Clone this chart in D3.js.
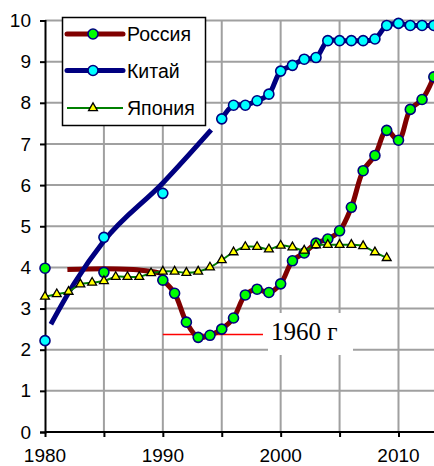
<!DOCTYPE html>
<html>
<head>
<meta charset="utf-8">
<script src="https://cdn.jsdelivr.net/npm/d3@7"></script>
<style>
  body { margin: 0; background: #fff; }
  svg { display: block; font-family: Arial, "Liberation Sans", sans-serif; }
</style>
</head>
<body>
<svg id="svg" width="434" height="466"></svg>
<script>
// DATA //

// Russia: markers at 1980, 1985 and yearly from 1990
const russiaYears = [1980, 1985, 1990, 1991, 1992, 1993, 1994, 1995, 1996, 1997, 1998, 1999,
  2000, 2001, 2002, 2003, 2004, 2005, 2006, 2007, 2008, 2009, 2010, 2011, 2012, 2013];
const russiaValues = [3.98, 3.88, 3.69, 3.37, 2.67, 2.30, 2.35, 2.50, 2.77, 3.33, 3.47, 3.39,
  3.60, 4.16, 4.35, 4.59, 4.69, 4.89, 5.46, 6.35, 6.72, 7.33, 7.09, 7.84, 8.08, 8.63];
const russiaLineFrom = 1990;

// China: markers at 1980, 1985, 1990 and yearly from 1995
const chinaYears = [1980, 1985, 1990, 1995, 1996, 1997, 1998, 1999, 2000, 2001, 2002, 2003,
  2004, 2005, 2006, 2007, 2008, 2009, 2010, 2011, 2012, 2013];
const chinaValues = [2.22, 4.73, 5.80, 7.61, 7.94, 7.94, 8.05, 8.21, 8.77, 8.91, 9.06, 9.10,
  9.51, 9.51, 9.51, 9.51, 9.55, 9.88, 9.93, 9.88, 9.88, 9.88];
const chinaLineFrom = 1995;

// Japan: yearly 1980-2009
const japanYears = d3.range(1980, 2010);
const japanValues = [3.29, 3.35, 3.41, 3.59, 3.63, 3.67, 3.77, 3.77, 3.77, 3.86,
  3.90, 3.90, 3.87, 3.90, 4.00, 4.18, 4.37, 4.50, 4.50, 4.44,
  4.53, 4.49, 4.41, 4.54, 4.55, 4.55, 4.55, 4.52, 4.37, 4.23];

// Trend curves (no markers)
const russiaTrendYears = [1981.9, 1985, 1987.5, 1989, 1990];
const russiaTrendValues = [3.95, 3.97, 3.95, 3.90, 3.85];
const chinaTrendYears = [1980.5, 1982.5, 1985, 1990, 1994.1];
const chinaTrendValues = [2.62, 3.62, 4.64, 6.05, 7.34];

// Reference level
const refYears = [1990, 1998.5];
const refValue = 2.37;
const refLabel = "1960 г";

// Axis ticks
const yTicks = d3.range(0, 11);
const xGridTicks = d3.range(1985, 2011, 5);
const xTickMarks = d3.range(1980, 2015, 5);
const xLabelTicks = [1980, 1990, 2000, 2010];

const legendItems = [
  {name: "Россия", line: "#800000", width: 5, marker: "circle", fill: "#00ff00"},
  {name: "Китай", line: "#000080", width: 5, marker: "circle", fill: "#00ffff"},
  {name: "Япония", line: "#008000", width: 2, marker: "triangle", fill: "#ffff00"}
];

// MAIN //

const svg = d3.select("#svg");

const x = d3.scaleLinear().domain([1980, 2014]).range([45, 45 + 34 * 11.783]);
const y = d3.scaleLinear().domain([0, 10]).range([432, 20.5]);

const gridColor = "#a0a0a0";

// Gridlines
svg.append("g")
  .selectAll("line")
  .data(yTicks.filter(d => d > 0))
  .enter()
  .append("line")
  .attr("x1", x(1980)).attr("x2", 434)
  .attr("y1", d => y(d)).attr("y2", d => y(d))
  .attr("stroke", gridColor).attr("stroke-width", 2);

svg.append("g")
  .selectAll("line")
  .data(xGridTicks)
  .enter()
  .append("line")
  .attr("x1", d => x(d)).attr("x2", d => x(d))
  .attr("y1", y(10)).attr("y2", y(0))
  .attr("stroke", gridColor).attr("stroke-width", 2);

// Label box (covers the grid)
const labelG = svg.append("g");
labelG.append("rect")
  .attr("x", 268).attr("y", 313)
  .attr("width", 85).attr("height", 42)
  .attr("fill", "#fff");
labelG.append("text")
  .attr("x", 271)
  .attr("y", 339.5)
  .style("font-family", "'Liberation Serif', 'Times New Roman', serif")
  .style("font-size", "25px")
  .text(refLabel);

// Reference line
svg.append("line")
  .attr("x1", x(refYears[0])).attr("x2", x(refYears[1]))
  .attr("y1", y(refValue)).attr("y2", y(refValue))
  .attr("stroke", "#ff0000").attr("stroke-width", 1.5);

// Axes
const yAxis = d3.axisLeft(y).tickValues(yTicks).tickSize(5).tickPadding(9);
svg.append("g")
  .attr("transform", `translate(${x(1980)},0)`)
  .call(yAxis)
  .call(g => {
    g.select(".domain").attr("stroke", "#000").attr("stroke-width", 2);
    g.selectAll(".tick line").attr("stroke", "#000").attr("stroke-width", 2);
    g.selectAll(".tick text")
      .attr("fill", "#000")
      .style("font-size", "19px")
      .style("font-family", "Arial, 'Liberation Sans', sans-serif");
  });

const xAxis = d3.axisBottom(x).tickValues(xTickMarks).tickSize(5).tickFormat("");
svg.append("g")
  .attr("transform", `translate(0,${y(0)})`)
  .call(xAxis)
  .call(g => {
    g.select(".domain").attr("d", `M${x(1980)},0H434`).attr("stroke", "#000").attr("stroke-width", 2);
    g.selectAll(".tick line").attr("stroke", "#000").attr("stroke-width", 2);
  });

svg.append("g")
  .selectAll("text")
  .data(xLabelTicks)
  .enter()
  .append("text")
  .attr("x", d => x(d))
  .attr("y", 462)
  .attr("text-anchor", "middle")
  .style("font-size", "19px")
  .text(d => d);

// Series drawing
const smooth = d3.line()
  .x(d => x(d[0])).y(d => y(d[1]))
  .curve(d3.curveCatmullRom.alpha(0.5));
const trendLine = d3.line()
  .x(d => x(d[0])).y(d => y(d[1]))
  .curve(d3.curveMonotoneX);

const zip = (a, b) => a.map((v, i) => [v, b[i]]);

function drawSeries(pts, lineFrom, trendPts, item) {
  const g = svg.append("g");
  if (trendPts) {
    g.append("path")
      .attr("d", trendLine(trendPts))
      .attr("fill", "none")
      .attr("stroke", item.line)
      .attr("stroke-width", item.width)
      .attr("stroke-linecap", "butt");
  }
  g.append("path")
    .attr("d", smooth(pts.filter(p => p[0] >= lineFrom)))
    .attr("fill", "none")
    .attr("stroke", item.line)
    .attr("stroke-width", item.width)
    .attr("stroke-linejoin", "round");
  drawMarkers(g, pts, item);
}

function drawMarkers(g, pts, item) {
  if (item.marker === "circle") {
    g.selectAll("circle")
      .data(pts)
      .enter()
      .append("circle")
      .attr("cx", d => x(d[0])).attr("cy", d => y(d[1]))
      .attr("r", 5)
      .attr("fill", item.fill)
      .attr("stroke", "#000080")
      .attr("stroke-width", 1.6);
  } else {
    g.selectAll(".tri")
      .data(pts)
      .enter()
      .append("path")
      .attr("class", "tri")
      .attr("transform", d => `translate(${x(d[0])},${y(d[1])})`)
      .attr("d", d3.symbol(d3.symbolTriangle, 34))
      .attr("fill", item.fill)
      .attr("stroke", "#000")
      .attr("stroke-width", 1.3);
  }
}

drawSeries(zip(russiaYears, russiaValues), russiaLineFrom,
  zip(russiaTrendYears, russiaTrendValues), legendItems[0]);
drawSeries(zip(chinaYears, chinaValues), chinaLineFrom,
  zip(chinaTrendYears, chinaTrendValues), legendItems[1]);
drawSeries(zip(japanYears, japanValues), 1980, null, legendItems[2]);

// Legend
const legend = svg.append("g").attr("class", "legend");
legend.append("rect")
  .attr("x", 62.5).attr("y", 17.5)
  .attr("width", 143).attr("height", 108)
  .attr("fill", "#fff")
  .attr("stroke", "#000").attr("stroke-width", 1.5);

const rowY = [34, 70.5, 108];
legendItems.forEach((item, i) => {
  const row = legend.append("g");
  row.append("line")
    .attr("x1", 67).attr("x2", 123)
    .attr("y1", rowY[i]).attr("y2", rowY[i])
    .attr("stroke", item.line)
    .attr("stroke-width", item.width)
    .attr("stroke-linecap", item.width > 3 ? "round" : "butt");
  drawMarkers(row, [[0, 0]], item);
  row.selectAll("circle, .tri")
    .attr("cx", null).attr("cy", null)
    .attr("transform", `translate(93,${rowY[i]})`);
  row.append("text")
    .attr("x", 127)
    .attr("y", rowY[i])
    .attr("dy", "0.36em")
    .style("font-size", "19.5px")
    .text(item.name);
});
</script>
</body>
</html>
